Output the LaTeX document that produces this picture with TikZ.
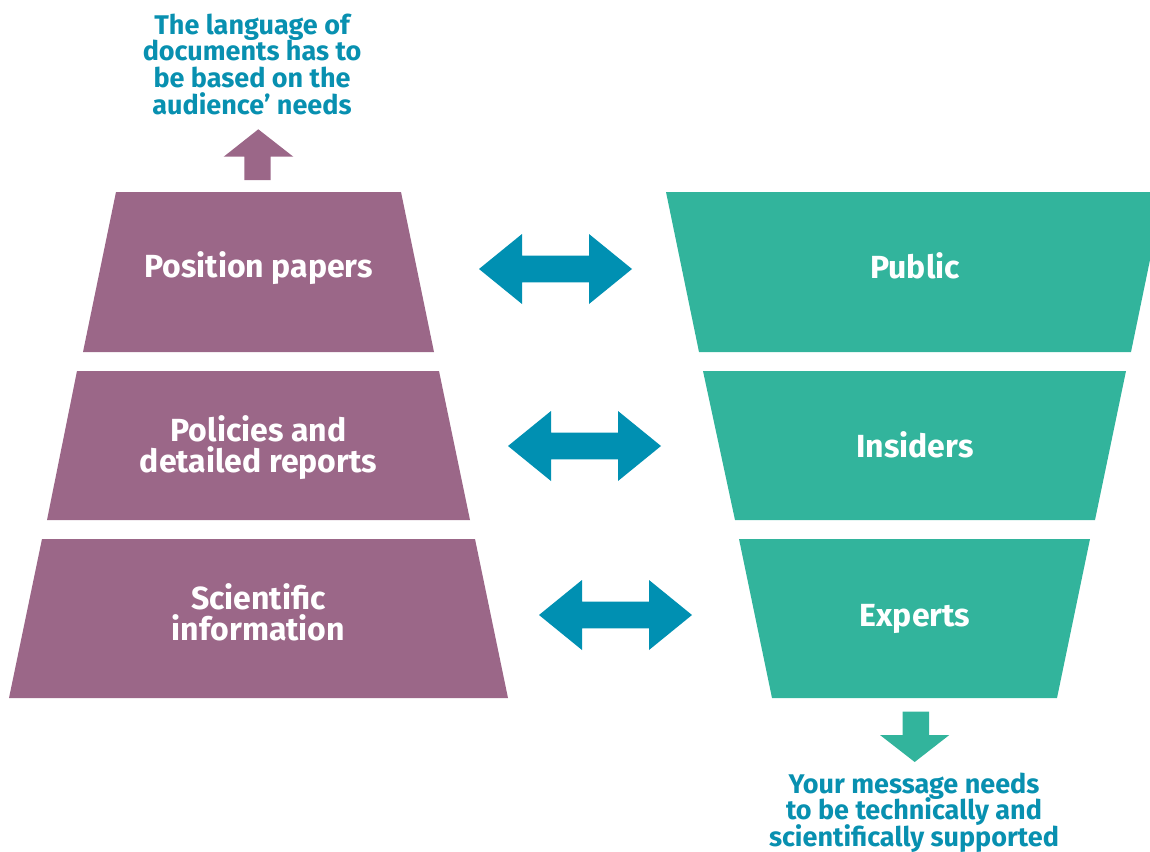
\documentclass[tikz,border=0pt]{standalone}
\usepackage{fontspec}
\setmainfont{Fira Sans}
\definecolor{purp}{RGB}{155,103,136}
\definecolor{grn}{RGB}{50,180,156}
\definecolor{arrowblue}{RGB}{0,144,178}
\definecolor{noteblue}{RGB}{8,144,176}
\newcommand\stacklines[1]{\vtop{\lineskiplimit=-100pt\let\\\cr\halign{\hfil##\hfil\cr#1\crcr}}}
\begin{document}
\begin{tikzpicture}[x=1bp,y=-1bp]
\tikzset{
 purplebox/.style={fill=purp},
 greenbox/.style={fill=grn},
 lbl/.style={text=white, font=\bfseries\fontsize{32bp}{31bp}\selectfont, anchor=base, inner sep=0pt},
 note/.style={text=noteblue, font=\bfseries\fontsize{27bp}{26.6bp}\selectfont, anchor=base, inner sep=0pt},
 darrow/.pic={\fill[arrowblue] (-76.5,0) -- (-33.5,-35) -- (-33.5,-13.3) -- (33.5,-13.3) -- (33.5,-35) -- (76.5,0) -- (33.5,35) -- (33.5,13.3) -- (-33.5,13.3) -- (-33.5,35) -- cycle;}
}
\useasboundingbox (0,0) rectangle (1150,852);
\clip (0,0) rectangle (1150,852);
% left pyramid
\fill[purplebox] (116,192) -- (401,192) -- (434,352) -- (83,352) -- cycle;
\fill[purplebox] (77,371) -- (439,371) -- (470,520) -- (47,520) -- cycle;
\fill[purplebox] (42,539) -- (475,539) -- (508,698) -- (9,698) -- cycle;
% right funnel
\fill[greenbox] (666,192) -- (1164,192) -- (1131,352) -- (699,352) -- cycle;
\fill[greenbox] (703,371) -- (1126,371) -- (1095,520) -- (735,520) -- cycle;
\fill[greenbox] (739,539) -- (1090,539) -- (1057,698) -- (772,698) -- cycle;
% labels
\node[lbl] (pos) at (258.5,277.3) {Position papers};
\node[lbl] (pol) at (258.5,441.7) {\stacklines{Policies and\\detailed reports}};
\node[lbl] (sci) at (258.5,609.3) {\stacklines{Scientific\\information}};
\node[lbl] (pub) at (915,278) {Public};
\node[lbl] (ins) at (915,457) {Insiders};
\node[lbl] (exp) at (915,626.6) {Experts};
% double arrows
\pic at (555.5,269) {darrow};
\pic at (584.5,446) {darrow};
\pic at (615.5,615) {darrow};
% up arrow
\fill[purplebox] (258.3,129.3) -- (293.3,156.7) -- (270.7,156.7) -- (270.7,180) -- (244.3,180) -- (244.3,156.7) -- (223.7,156.7) -- cycle;
% down arrow
\fill[greenbox] (914.7,762) -- (949.3,735) -- (929,735) -- (929,711.7) -- (902.7,711.7) -- (902.7,735) -- (880,735) -- cycle;
% notes
\node[note] (topnote) at (252,34.3) {\stacklines{The language of\\documents has to\\be based on the\\audience’ needs}};
\node[note] (botnote) at (914,793.3) {\stacklines{Your message needs\\to be technically and\\scientifically supported}};
\end{tikzpicture}
\end{document}
